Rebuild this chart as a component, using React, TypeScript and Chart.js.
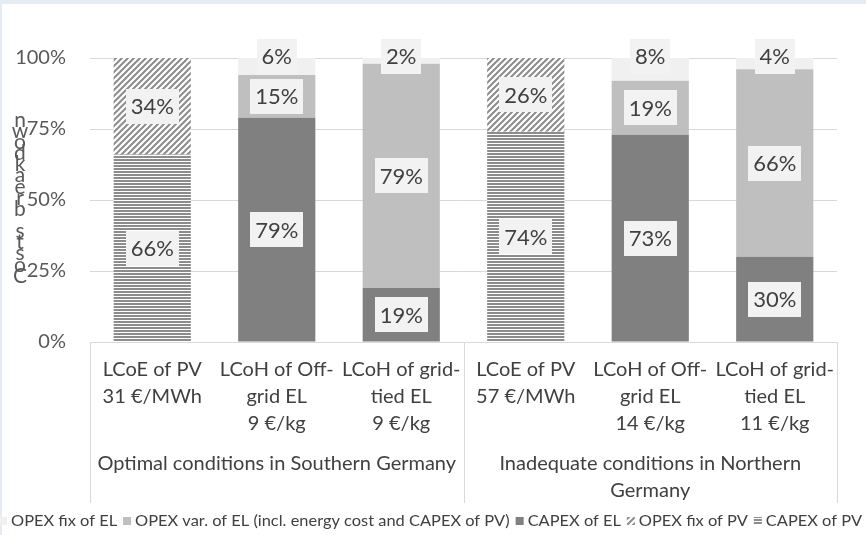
import React, { useEffect, useRef } from "react";
import { Chart, registerables } from "chart.js";
Chart.register(...registerables);

const categories = [
  ["LCoE of PV", "31 €/MWh"],
  ["LCoH of Off-", "grid EL", "9 €/kg"],
  ["LCoH of grid-", "tied EL", "9 €/kg"],
  ["LCoE of PV", "57 €/MWh"],
  ["LCoH of Off-", "grid EL", "14 €/kg"],
  ["LCoH of grid-", "tied EL", "11 €/kg"],
];
const groupLabels = [
  ["Optimal conditions in Southern Germany"],
  ["Inadequate conditions in Northern", "Germany"],
];
const groupSizes = [3, 3];
const capexPV = [66, null, null, 74, null, null];
const opexFixPV = [34, null, null, 26, null, null];
const capexEL = [null, 79, 19, null, 73, 30];
const opexVarEL = [null, 15, 79, null, 19, 66];
const opexFixEL = [null, 6, 2, null, 8, 4];
const seriesNames = [
  "CAPEX of PV",
  "OPEX fix of PV",
  "CAPEX of EL",
  "OPEX var. of EL (incl. energy cost and CAPEX of PV)",
  "OPEX fix of EL",
];
const yTitle = "Costs breakdown";

const FONT = "Lato";
const TEXT = "#404040";
const GRID = "#d9d9d9";

function makeDiag(): CanvasPattern {
  const c = document.createElement("canvas");
  c.width = 6;
  c.height = 6;
  const g = c.getContext("2d")!;
  g.fillStyle = "#ffffff";
  g.fillRect(0, 0, 6, 6);
  g.strokeStyle = "#8c8c8c";
  g.lineWidth = 2;
  g.beginPath();
  g.moveTo(-2, 8); g.lineTo(8, -2);
  g.moveTo(-2, 2); g.lineTo(2, -2);
  g.moveTo(4, 8); g.lineTo(8, 4);
  g.stroke();
  return g.createPattern(c, "repeat")!;
}

function makeHoriz(): CanvasPattern {
  const c = document.createElement("canvas");
  c.width = 4;
  c.height = 3;
  const g = c.getContext("2d")!;
  g.fillStyle = "#ffffff";
  g.fillRect(0, 0, 4, 3);
  g.fillStyle = "#8c8c8c";
  g.fillRect(0, 0, 4, 2);
  return g.createPattern(c, "repeat")!;
}

export default function App() {
  const ref = useRef<HTMLCanvasElement>(null);
  useEffect(() => {
    const canvas = ref.current!;
    const diag = makeDiag();
    const horiz = makeHoriz();
    const fills: any[] = [horiz, diag, "#808080", "#bfbfbf", "#f0f0f0"];
    const series = [capexPV, opexFixPV, capexEL, opexVarEL, opexFixEL];

    const bgPlugin = {
      id: "bg",
      beforeDraw(chart: any) {
        const c = chart.ctx;
        c.save();
        c.fillStyle = "#ffffff";
        c.fillRect(0, 0, chart.width, chart.height);
        c.fillStyle = "#e4ebf3";
        c.fillRect(0, 0, chart.width, 4);
        c.fillRect(0, 0, 2, chart.height);
        c.restore();
      },
    };

    const labelPlugin = {
      id: "labels",
      afterDatasetsDraw(chart: any) {
        const c = chart.ctx;
        c.save();
        c.font = `22px ${FONT}`;
        c.textAlign = "center";
        c.textBaseline = "middle";
        chart.data.datasets.forEach((ds: any, di: number) => {
          const meta = chart.getDatasetMeta(di);
          meta.data.forEach((el: any, i: number) => {
            const v = ds.data[i];
            if (v === null || v === undefined) return;
            const x = el.x;
            let y = (el.y + el.base) / 2;
            if (di === 4) y = el.y - 2;
            const txt = v + "%";
            const w = c.measureText(txt).width + 10;
            const h = 35;
            c.fillStyle = "#f2f2f2";
            c.fillRect(Math.round(x - w / 2), Math.round(y - h / 2), Math.round(w), h);
            c.fillStyle = TEXT;
            c.fillText(txt, x, y + 1);
          });
        });
        c.restore();
      },
    };

    const decoPlugin = {
      id: "deco",
      afterDraw(chart: any) {
        const c = chart.ctx;
        const xs = chart.scales.x;
        const area = chart.chartArea;
        c.save();
        const step = (xs.right - xs.left) / categories.length;
        const bounds = [xs.left];
        let acc = 0;
        groupSizes.forEach((n) => {
          acc += n;
          bounds.push(xs.left + step * acc);
        });
        c.strokeStyle = GRID;
        c.lineWidth = 1;
        bounds.forEach((bx) => {
          const px = Math.round(bx) + 0.5;
          c.beginPath();
          c.moveTo(px, area.bottom);
          c.lineTo(px, 503);
          c.stroke();
        });
        c.font = `20px ${FONT}`;
        c.fillStyle = TEXT;
        c.textAlign = "center";
        c.textBaseline = "middle";
        groupLabels.forEach((lines, gi) => {
          const cx = (bounds[gi] + bounds[gi + 1]) / 2;
          lines.forEach((ln, li) => c.fillText(ln, cx, 464 + li * 27));
        });
        c.fillStyle = "#595959";
        c.font = `21px ${FONT}`;
        const chars = yTitle.split("");
        const yBottom = 276;
        const yTop = 120;
        const st = (yBottom - yTop) / (chars.length - 1);
        chars.forEach((ch, k) => {
          if (ch === " ") return;
          c.fillText(ch, 20, yBottom - k * st);
        });
        c.font = `16px ${FONT}`;
        c.textAlign = "left";
        const order = [4, 3, 2, 1, 0];
        const box = 8, gapBT = 4, gapTB = 6;
        const widths = order.map((i) => c.measureText(seriesNames[i]).width);
        const sum = widths.reduce((a, b) => a + b, 0);
        const startX = -1, endX = 862;
        const fixed = order.length * (box + gapBT) + (order.length - 1) * gapTB;
        const s = (endX - startX - fixed) / sum;
        let x = startX;
        const ly = 521;
        order.forEach((i, k) => {
          c.fillStyle = fills[i];
          c.fillRect(x, ly - 4, box, box);
          x += box + gapBT;
          c.save();
          c.translate(x, ly);
          c.scale(s, 1);
          c.fillStyle = TEXT;
          c.fillText(seriesNames[i], 0, 0);
          c.restore();
          x += widths[k] * s + gapTB;
        });
        c.restore();
      },
    };

    const chart = new Chart(canvas, {
      type: "bar",
      data: {
        labels: categories as any,
        datasets: series.map((d, i) => ({
          label: seriesNames[i],
          data: d as any,
          backgroundColor: fills[i],
          borderWidth: 0,
          categoryPercentage: 1,
          barPercentage: 0.62,
        })),
      },
      options: {
        responsive: false,
        animation: false,
        devicePixelRatio: 1,
        layout: { padding: { left: 0, top: 58, right: 29, bottom: 43 } },
        plugins: {
          legend: { display: false },
          tooltip: { enabled: false },
          title: { display: false },
        },
        scales: {
          x: {
            stacked: true,
            grid: { display: false, drawTicks: false },
            border: { display: true, color: GRID, width: 1 },
            ticks: {
              color: TEXT,
              font: { family: FONT, size: 20, lineHeight: 1.35 },
              padding: 14,
              maxRotation: 0,
              autoSkip: false,
            },
            afterFit: (scale: any) => {
              scale.height = 150;
            },
          },
          y: {
            stacked: true,
            min: 0,
            max: 100,
            grid: { color: GRID, drawTicks: false, lineWidth: 1 },
            border: { display: false },
            ticks: {
              stepSize: 25,
              color: "#595959",
              font: { family: FONT, size: 20 },
              padding: 24,
              callback: (v: any) => v + "%",
            },
            afterFit: (scale: any) => {
              scale.width = 90;
            },
          },
        },
      },
      plugins: [bgPlugin, labelPlugin, decoPlugin],
    });
    if ((document as any).fonts) {
      (document as any).fonts.load(`20px ${FONT}`).then(() => chart.update());
    }
    return () => chart.destroy();
  }, []);
  return (
    <div style={{ position: "absolute", left: 0, top: 0, width: 866, height: 535 }}>
      <canvas ref={ref} width={866} height={535} style={{ width: 866, height: 535, display: "block" }} />
    </div>
  );
}
